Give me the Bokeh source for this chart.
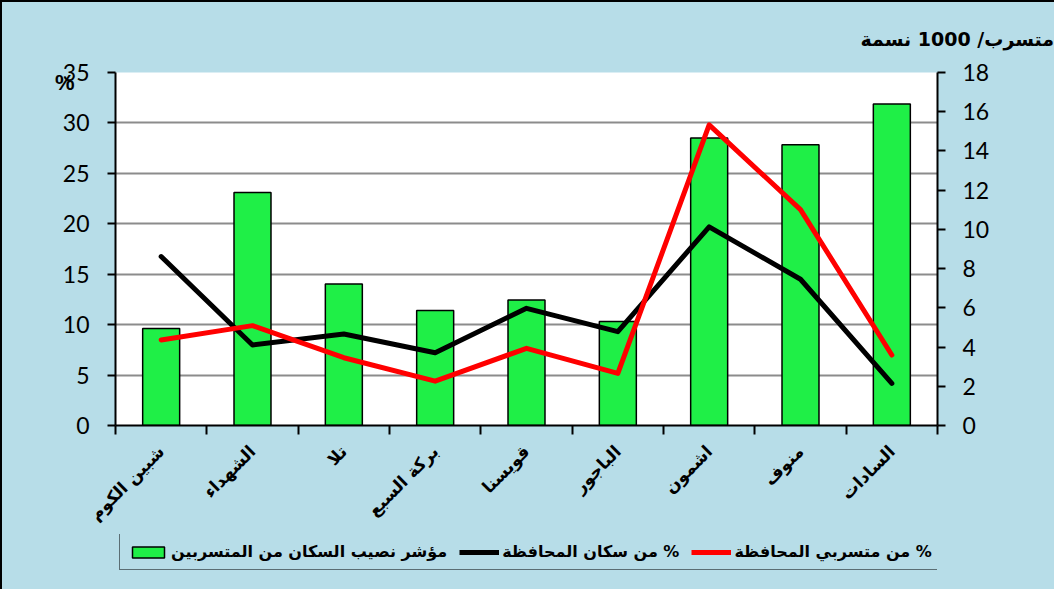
import math
from bokeh.plotting import figure
from bokeh.layouts import column
from bokeh.models import (Range1d, LinearAxis, FixedTicker, Legend, LegendItem,
                          Title, ColumnDataSource)
from bokeh.embed import file_html
from bokeh.resources import INLINE

# ---------------- data ----------------
districts = ["شبين الكوم", "الشهداء", "تلا", "بركة السبع", "قويسنا",
             "الباجور", "اشمون", "منوف", "السادات"]
dropouts_per_1000 = [4.94, 11.88, 7.22, 5.86, 6.40, 5.30, 14.66, 14.32, 16.40]
pct_population = [16.75, 7.98, 9.07, 7.22, 11.62, 9.30, 19.70, 14.50, 4.17]
pct_dropouts = [8.48, 9.90, 6.72, 4.40, 7.65, 5.17, 29.80, 21.40, 6.99]
left_ticks = [0, 5, 10, 15, 20, 25, 30, 35]
right_ticks = [0, 2, 4, 6, 8, 10, 12, 14, 16, 18]

series_bar = "مؤشر نصيب السكان من المتسربين"
series_pop = "\u200F% من سكان المحافظة"
series_drop = "\u200F% من متسربي المحافظة"
right_title = "\u200Fمتسرب/ 1000 نسمة"
left_title = "%"
left_title_at = 34          # y value beside which the "%" unit sits

BG = "#B7DDE8"
ARABIC_FONT = "DejaVu Sans"
NUM_FONT = "Lato"
BAR_FILL = "#1FEF47"
LINE_W = 5

n = len(districts)
centers = [2 * i + 1 for i in range(n)]        # category centres
bounds = [2 * i for i in range(n + 1)]         # category boundaries

src = ColumnDataSource(dict(x=centers, bar=dropouts_per_1000,
                            pop=pct_population, drop=pct_dropouts))

p = figure(frame_width=822, frame_height=353, output_backend="svg",
           toolbar_location=None, title=None,
           x_range=Range1d(0, 2 * n), y_range=Range1d(0, 35),
           min_border_left=113, min_border_right=117,
           min_border_top=70, min_border_bottom=104)
p.extra_y_ranges = {"right": Range1d(0, 18)}
p.background_fill_color = "white"
p.border_fill_color = BG
p.outline_line_color = None

p.vbar(x="x", top="bar", width=0.81, source=src, y_range_name="right",
       fill_color=BAR_FILL, line_color="black", line_width=1.5)
p.line(x="x", y="pop", source=src, line_color="black", line_width=LINE_W,
       line_cap="round", line_join="round")
p.line(x="x", y="drop", source=src, line_color="#FF0000", line_width=LINE_W,
       line_cap="round", line_join="round")

# grid
p.xgrid.visible = False
p.ygrid.ticker = FixedTicker(ticks=left_ticks)
p.ygrid.grid_line_color = "#8C8C8C"
p.ygrid.grid_line_width = 2


def style_y(ax, standoff):
    ax.axis_line_width = 2
    ax.axis_line_color = "black"
    ax.major_tick_line_width = 2
    ax.major_tick_line_color = "black"
    ax.major_tick_out = 8
    ax.major_tick_in = 0
    ax.minor_tick_line_color = None
    ax.major_label_text_font = NUM_FONT
    ax.major_label_text_font_size = "23px"
    ax.major_label_text_color = "black"
    ax.major_label_standoff = standoff


# left axis
ya = p.yaxis[0]
ya.ticker = FixedTicker(ticks=left_ticks)
style_y(ya, 18)

# "%" unit beside the top of the left axis
ua = LinearAxis(ticker=FixedTicker(ticks=[left_title_at]),
                major_label_overrides={left_title_at: left_title})
ua.axis_line_color = None
ua.major_tick_line_color = None
ua.minor_tick_line_color = None
ua.major_label_text_font = "Liberation Sans"
ua.major_label_text_font_style = "bold"
ua.major_label_text_font_size = "22px"
ua.major_label_text_color = "black"
ua.major_label_standoff = -21
p.add_layout(ua, "left")

# right axis
ra = LinearAxis(y_range_name="right", ticker=FixedTicker(ticks=right_ticks))
style_y(ra, 17)
p.add_layout(ra, "right")

# x axis
xa = p.xaxis[0]
xa.ticker = FixedTicker(ticks=centers, minor_ticks=bounds)
xa.major_label_overrides = {c: d for c, d in zip(centers, districts)}
xa.major_tick_out = 0
xa.major_tick_in = 0
xa.minor_tick_out = 9
xa.minor_tick_in = 0
xa.minor_tick_line_color = "black"
xa.minor_tick_line_width = 2
xa.axis_line_width = 2
xa.axis_line_color = "black"
xa.major_label_orientation = math.pi / 4
xa.major_label_text_font = ARABIC_FONT
xa.major_label_text_font_style = "bold"
xa.major_label_text_font_size = "17px"
xa.major_label_text_color = "black"
xa.major_label_standoff = 14

# right-axis unit title
p.add_layout(Title(text=right_title, align="left", offset=745, standoff=46,
                   text_font=ARABIC_FONT, text_font_style="bold",
                   text_font_size="19px", text_color="black"), "above")

# ---------------- legend strip ----------------
# same series drawn off-view here, only so the legend can show their symbols
q = figure(width=1052, height=58, output_backend="svg", toolbar_location=None,
           title=None, x_axis_location=None, y_axis_location=None,
           x_range=Range1d(0, 2 * n), y_range=Range1d(1000, 1001), min_border=0)
q.background_fill_color = BG
q.border_fill_color = BG
q.outline_line_color = None
q.grid.visible = False
lb = q.vbar(x="x", top="bar", width=0.81, source=src,
            fill_color=BAR_FILL, line_color="black", line_width=1.5)
lk = q.line(x="x", y="pop", source=src, line_color="black", line_width=LINE_W)
lr = q.line(x="x", y="drop", source=src, line_color="#FF0000", line_width=LINE_W)

legend = Legend(items=[LegendItem(label=series_bar, renderers=[lb]),
                       LegendItem(label=series_pop, renderers=[lk]),
                       LegendItem(label=series_drop, renderers=[lr])],
                orientation="horizontal", location=(4, 22))
legend.border_line_color = "black"
legend.border_line_width = 1.5
legend.background_fill_color = BG
legend.background_fill_alpha = 1
legend.label_text_font = ARABIC_FONT
legend.label_text_font_style = "bold"
legend.label_text_font_size = "16px"
legend.label_text_color = "black"
legend.glyph_width = 40
legend.glyph_height = 14
legend.spacing = 12
legend.padding = 8
legend.margin = 0
legend.label_standoff = 3
q.add_layout(legend)

page = column(p, q, spacing=0)
page.styles = {"border-left": "2px solid black", "border-top": "2px solid black",
               "background-color": BG}

open("out.html", "w").write(file_html(page, INLINE))
